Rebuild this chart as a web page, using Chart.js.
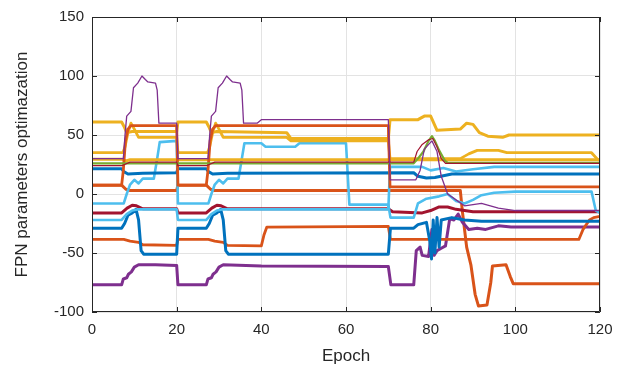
<!DOCTYPE html>
<html>
<head>
<meta charset="utf-8">
<script src="https://cdn.jsdelivr.net/npm/chart.js@4"></script>
<style>
html,body{margin:0;padding:0;background:#fff;}
canvas{display:block;}
</style>
</head>
<body>
<canvas id="c" width="630" height="379"></canvas>
<script>
// ---- data: [epoch, value] key points ----
const xTicks = [0, 20, 40, 60, 80, 100, 120];
const yTicks = [-100, -50, 0, 50, 100, 150];

const purpleThin = [[0,30],[7.4,30],[7.8,50],[8.2,66],[9.2,70],[9.8,90],[10.8,94],[11.8,100],[12.6,97],[13.2,95],[15,94],[15.4,88],[15.8,60],[20,60],[20.3,30],[27.4,30],[27.8,50],[28.2,66],[29.2,70],[29.8,90],[30.8,94],[31.8,100],[32.6,97],[33.2,95],[35,94],[35.4,88],[35.8,60],[39,60],[40,63],[70,63],[70.4,12],[76.5,12],[77.5,20],[78.5,38],[80.3,45],[81.5,36],[82.5,15],[84,0],[86,-5],[88,-10],[92,-8],[96,-12],[100,-14],[120,-14]];
const redTop = [[0,7.5],[7,7.5],[7.4,20],[7.9,45],[8.5,55],[9.2,58],[20,58],[20.3,7.5],[27,7.5],[27.4,20],[27.9,45],[28.5,55],[29.2,58],[70,58],[70.4,6],[120,6]];
const yellowTop = [[0,61],[7,61],[7.6,57],[8.2,52],[9.5,53],[20,53],[20.3,61],[27,61],[27.6,57],[28.2,52],[29.5,53],[46,52],[47,47],[70,47],[70.4,63],[77,63],[78.5,66],[80,66],[81.5,54],[87,55],[88.5,60],[90,59],[91.5,52],[93.5,49],[97,48],[98.5,50],[120,50]];
const yellowMid = [[0,35],[7.3,35],[7.8,40],[8.5,52],[9.2,60],[10,55],[11,48],[20,48],[20.3,35],[27.3,35],[27.8,40],[28.5,52],[29.2,60],[30,55],[31,48],[46,48],[47,45],[70,45],[70.4,30],[87,30],[89,34],[91,37],[96,37],[98,35],[118,35],[119.5,29],[120,29]];
const yellowLow = [[0,29.5],[7,29.5],[8,28],[9,29],[120,29]];
const greenLine = [[0,26],[76,26],[77,30],[78.3,36],[79.5,45],[80.3,49],[81,45],[82,37],[83.4,28],[84,26.5],[120,26.5]];
const darkRedThin = [[0,24],[7,24],[9,27],[20,27],[20.3,24],[27,24],[29,27],[76,27],[76.8,36],[78,42],[79.5,46],[80.5,47],[81.5,40],[82.5,30],[83.5,26],[120,26]];
const blueUpper = [[0,21.5],[7,21.5],[7.5,19],[8.5,17],[12,17.5],[20,18],[20.3,21.5],[27,21.5],[27.5,19],[28.5,17],[32,17.5],[76,18],[77,15],[79,13.5],[81,14],[83,15.5],[85,17],[120,17]];
const lightBlueA = [[0,-8],[7.5,-8],[8.2,0],[9,8],[10,12],[11,9],[12,13],[14.6,13],[15.4,30],[16,44],[20,45],[20.3,-8],[27.5,-8],[28.2,0],[29,8],[30,12],[31,9],[32,13],[34.6,13],[35.4,30],[36,43],[40,43],[41,40],[48,40],[49,43],[60,43],[60.8,-9],[70,-9],[70.5,-20],[76,-20],[77,-8],[79,-4],[82,-2],[84,0],[86,-6],[88,-8],[90,-5],[92,-1],[95,1],[100,2],[118,2],[119,-14],[120,-16]];
const lightBlueB = [[0,-22],[7,-22],[8.2,-17],[9.5,-14],[11,-13],[20,-13],[20.3,-22],[27,-22],[28.2,-17],[29.5,-14],[31,-13],[70,-13],[70.4,23],[78,23],[80,20],[83,22],[86,19],[90,21],[95,23],[120,23]];
const darkRed = [[0,-16],[7,-16],[8.3,-12],[9.5,-9.5],[10.5,-10],[12,-12.5],[20,-12.5],[20.3,-16],[27,-16],[28.3,-12],[29.5,-9.5],[30.5,-10],[32,-12.5],[70,-12.5],[71,-15],[78,-16],[80,-14],[82,-11],[84,-11],[86,-13],[90,-15],[120,-15]];
const blueLower = [[0,-29],[7,-29],[7.7,-25],[8.5,-18],[9.5,-16],[10.4,-13],[11,-22],[11.6,-48],[12.2,-51],[20,-51],[20.3,-29],[27,-29],[27.7,-25],[28.5,-18],[29.5,-16],[30.4,-13],[31,-22],[31.6,-48],[32.2,-51],[70,-51],[70.5,-29],[76,-29],[77,-26],[79,-24],[79.8,-40],[80.2,-55],[80.6,-22],[81,-50],[81.5,-20],[82,-45],[82.5,-22],[85,-20],[88,-22],[92,-23],[120,-23]];
const orangeMid = [[0,-38.5],[7.5,-38.5],[9,-40],[11,-41],[12,-43],[20,-43.5],[20.3,-38.5],[27.5,-38.5],[29,-40],[31,-41],[32,-43.5],[40,-44],[40.6,-35],[41.3,-28],[70,-27.5],[70.5,-38.5],[115,-38.5],[116,-30],[117.5,-22],[118.5,-20],[120,-19]];
const purpleBottom = [[0,-77],[7,-77],[7.4,-72],[8.2,-71],[8.6,-68],[9.3,-66],[10,-62],[11,-60],[15,-60],[20,-60.5],[20.3,-77],[27,-77],[27.4,-72],[28.2,-71],[28.6,-68],[29.3,-66],[30,-62],[31,-60],[40,-61],[70,-61.5],[70.6,-77],[76,-77],[76.6,-48],[77.5,-45],[78,-52],[79.5,-53],[80.3,-30],[80.8,-52],[81.5,-48],[82.5,-46],[83.5,-44],[84.5,-21],[85.5,-22],[86.5,-17],[87.5,-24],[89,-30],[91,-29],[93,-30],[96,-27],[99,-28],[120,-28]];
const orangeLow = [[0,7.5],[7,7.5],[8,4],[9,3],[20,3],[20.3,7.5],[27,7.5],[28,4],[29,3],[87,3],[87.5,-15],[88.5,-45],[89.5,-60],[90.5,-85],[91.3,-95],[93.3,-94],[94.2,-75],[94.6,-61],[97.8,-60],[98.8,-70],[99.5,-76],[120,-76]];

// ---- series styling (drawn top-first in Chart.js) ----
const C = {blue:'#0072BD', orange:'#D95319', yellow:'#EDB120', purple:'#7E2F8E', green:'#77AC30', lblue:'#4DBEEE', dred:'#A2142F'};
const seriesList = [
  [purpleThin, C.purple, 1.3],
  [darkRedThin, C.dred, 1.2],
  [greenLine, C.green, 2.2],
  [redTop, C.orange, 2.8],
  [yellowTop, C.yellow, 3],
  [yellowMid, C.yellow, 2.8],
  [yellowLow, C.yellow, 3],
  [blueUpper, C.blue, 3],
  [lightBlueA, C.lblue, 2.6],
  [lightBlueB, C.lblue, 2.6],
  [darkRed, C.dred, 3],
  [blueLower, C.blue, 3],
  [orangeMid, C.orange, 2.8],
  [purpleBottom, C.purple, 3],
  [orangeLow, C.orange, 3]
];

const datasets = seriesList.map(([pts, color, w]) => ({
  data: pts.map(p => ({x: p[0], y: p[1]})),
  borderColor: color,
  borderWidth: w,
  pointRadius: 0,
  tension: 0,
  fill: false,
  borderJoinStyle: 'round'
}));

const axisColor = '#262626';
const innerTicks = {
  id: 'innerTicks',
  afterDraw(chart) {
    const {ctx, chartArea: a, scales: {x, y}} = chart;
    ctx.save();
    ctx.strokeStyle = axisColor;
    ctx.lineWidth = 1;
    ctx.beginPath();
    ctx.rect(a.left + 0.5, a.top + 0.5, a.right - a.left - 1, a.bottom - a.top - 1);
    ctx.stroke();
    ctx.beginPath();
    xTicks.forEach(v => {
      const px = Math.round(x.getPixelForValue(v)) + 0.5;
      ctx.moveTo(px, a.bottom); ctx.lineTo(px, a.bottom - 5);
      ctx.moveTo(px, a.top); ctx.lineTo(px, a.top + 5);
    });
    yTicks.forEach(v => {
      const py = Math.round(y.getPixelForValue(v)) + 0.5;
      ctx.moveTo(a.left, py); ctx.lineTo(a.left + 5, py);
      ctx.moveTo(a.right, py); ctx.lineTo(a.right - 5, py);
    });
    ctx.stroke();
    ctx.restore();
  }
};

const font = '"Liberation Sans", Arial, Helvetica, sans-serif';
new Chart(document.getElementById('c'), {
  type: 'line',
  data: {datasets},
  options: {
    responsive: false,
    animation: false,
    events: [],
    layout: {padding: {left: 0, top: 13, right: 30, bottom: 0}},
    plugins: {legend: {display: false}, tooltip: {enabled: false}},
    scales: {
      x: {
        type: 'linear', min: 0, max: 120,
        afterBuildTicks(s) { s.ticks = xTicks.map(v => ({value: v})); },
        afterFit(s) { s.height = 67; },
        grid: {color: '#e3e3e3', drawTicks: false},
        border: {display: false},
        ticks: {color: axisColor, font: {family: font, size: 15}, padding: 9, maxRotation: 0},
        title: {display: true, text: 'Epoch', color: axisColor, font: {family: font, size: 17}, padding: {top: 0, bottom: 12}}
      },
      y: {
        min: -100, max: 150,
        afterBuildTicks(s) { s.ticks = yTicks.map(v => ({value: v})); },
        afterFit(s) { s.width = 92; },
        grid: {color: '#e3e3e3', drawTicks: false},
        border: {display: false},
        ticks: {color: axisColor, font: {family: font, size: 15}, padding: 8},
        title: {display: true, text: 'FPN parameters optimazation', color: axisColor, font: {family: font, size: 17}, padding: {top: 12, bottom: 0}}
      }
    }
  },
  plugins: [innerTicks]
});
</script>
</body>
</html>
